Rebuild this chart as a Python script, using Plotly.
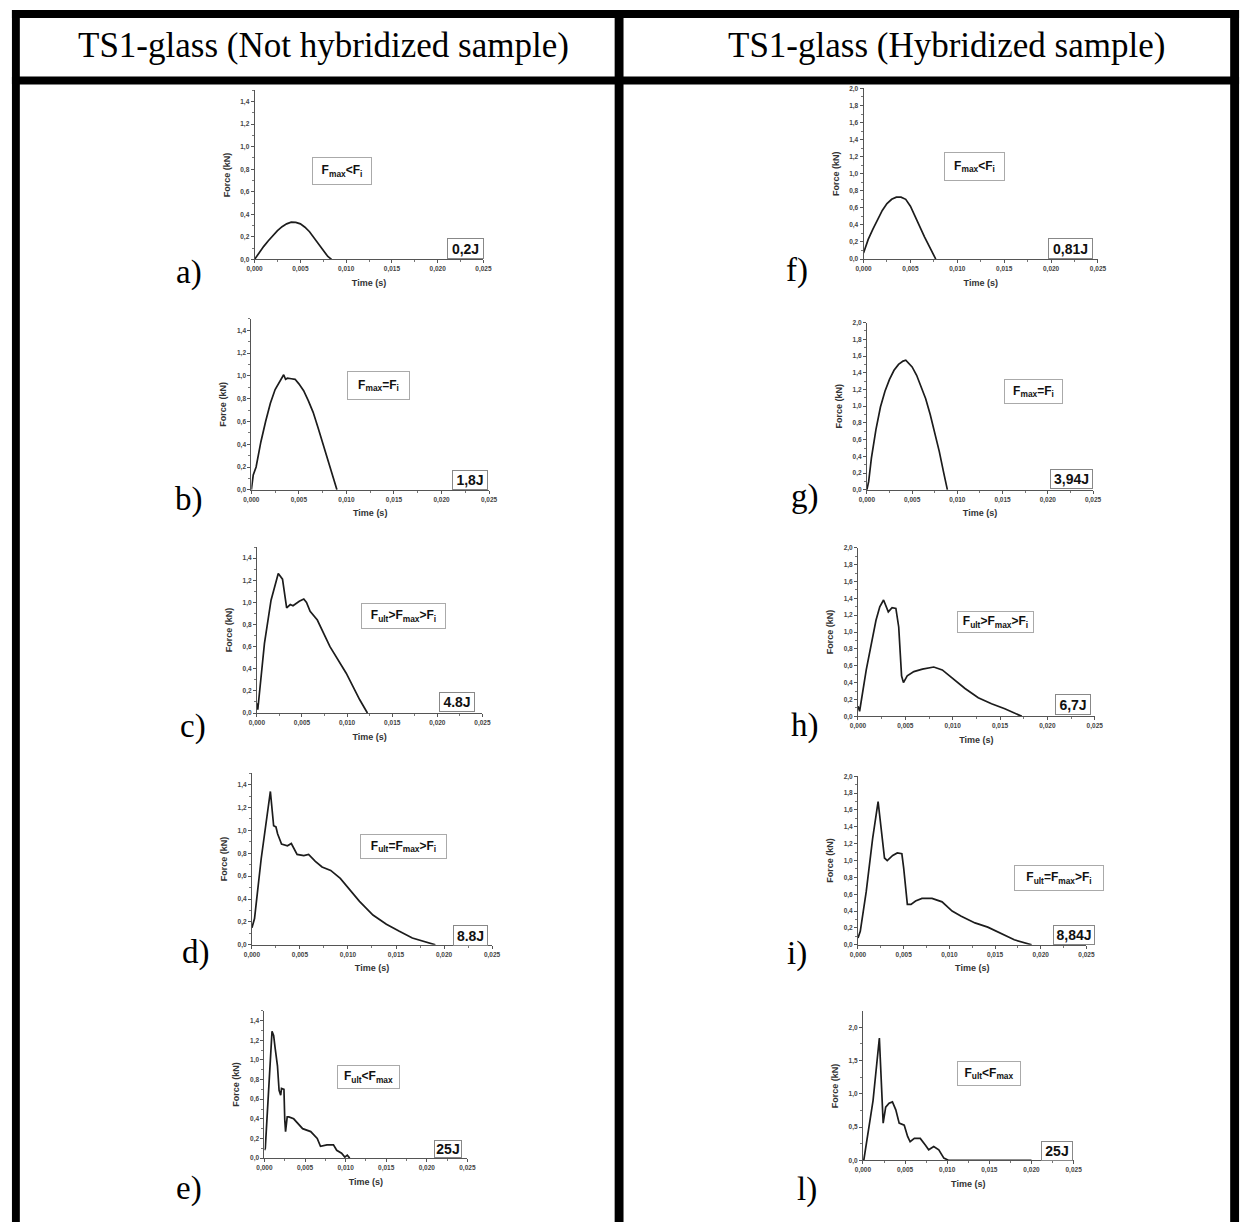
import plotly.graph_objects as go

# ---------------- data ----------------
t_a = [0, 0.0005, 0.001, 0.0015, 0.002, 0.0025, 0.003, 0.0035, 0.004, 0.0045, 0.005, 0.0055, 0.006, 0.0065, 0.007, 0.0075, 0.008, 0.0084]
f_a = [0, 0.06, 0.115, 0.165, 0.21, 0.255, 0.29, 0.315, 0.33, 0.328, 0.315, 0.285, 0.245, 0.19, 0.13, 0.075, 0.025, 0.0]

t_b = [0, 0.0001, 0.0002, 0.0005, 0.001, 0.0015, 0.002, 0.0025, 0.003, 0.0034, 0.0036, 0.0038, 0.0042, 0.0046, 0.005, 0.0055, 0.006, 0.0065, 0.007, 0.0075, 0.008, 0.0085, 0.009]
f_b = [0, 0.06, 0.13, 0.2, 0.42, 0.6, 0.76, 0.88, 0.96, 1.01, 0.97, 0.98, 0.975, 0.97, 0.93, 0.87, 0.78, 0.68, 0.55, 0.41, 0.26, 0.12, 0.0]

t_c = [0, 0.0001, 0.00084, 0.00157, 0.00237, 0.00284, 0.0033, 0.0037, 0.004, 0.0047, 0.0052, 0.0055, 0.0059, 0.0067, 0.0081, 0.0099, 0.0114, 0.01225]
f_c = [0.09, 0.03, 0.63, 1.02, 1.26, 1.21, 0.95, 0.98, 0.97, 1.01, 1.03, 1.0, 0.92, 0.84, 0.6, 0.36, 0.12, 0.0]

t_d = [0, 0.00027, 0.00096, 0.00147, 0.00192, 0.00226, 0.0025, 0.00267, 0.00308, 0.0037, 0.0041, 0.0047, 0.0054, 0.0059, 0.0066, 0.0073, 0.0082, 0.0092, 0.0102, 0.0112, 0.0126, 0.014, 0.0153, 0.0167, 0.0191]
f_d = [0.15, 0.23, 0.75, 1.07, 1.34, 1.04, 1.03, 0.97, 0.88, 0.865, 0.885, 0.79, 0.78, 0.79, 0.73, 0.68, 0.65, 0.58, 0.48, 0.38, 0.26, 0.18, 0.12, 0.06, 0.0]

t_e = [0, 0.0001, 0.00093, 0.00113, 0.0013, 0.0015, 0.0016, 0.0018, 0.002, 0.0021, 0.0024, 0.0025, 0.0026, 0.0028, 0.003, 0.0036, 0.0041, 0.0047, 0.0057, 0.0065, 0.0069, 0.0077, 0.0085, 0.0089, 0.0095, 0.0099, 0.0102, 0.0105]
f_e = [0.08, 0.1, 1.29, 1.25, 1.13, 0.98, 0.94, 0.69, 0.64, 0.71, 0.70, 0.39, 0.27, 0.42, 0.42, 0.40, 0.35, 0.30, 0.27, 0.20, 0.12, 0.135, 0.135, 0.08, 0.05, 0.01, 0.03, 0.0]

t_f = [0, 0.0005, 0.001, 0.0015, 0.002, 0.0025, 0.003, 0.0035, 0.004, 0.0045, 0.005, 0.0055, 0.006, 0.0065, 0.007, 0.0077]
f_f = [0.07, 0.23, 0.35, 0.47, 0.57, 0.65, 0.70, 0.725, 0.725, 0.70, 0.62, 0.50, 0.37, 0.26, 0.15, 0.0]

t_g = [0, 0.0002, 0.0005, 0.001, 0.0015, 0.002, 0.0025, 0.003, 0.0035, 0.004, 0.0043, 0.0047, 0.005, 0.0055, 0.006, 0.0065, 0.007, 0.0075, 0.008, 0.0085, 0.0089]
f_g = [0, 0.1, 0.38, 0.72, 0.99, 1.18, 1.32, 1.43, 1.5, 1.54, 1.55, 1.51, 1.47, 1.37, 1.24, 1.09, 0.9, 0.69, 0.46, 0.2, 0.0]

t_h = [0, 0.00017, 0.00087, 0.0019, 0.0023, 0.0027, 0.0032, 0.0036, 0.004, 0.0043, 0.0046, 0.0048, 0.0052, 0.0059, 0.0068, 0.008, 0.0089, 0.0099, 0.0113, 0.0127, 0.0141, 0.0155, 0.0165, 0.0173]
f_h = [0.12, 0.06, 0.55, 1.14, 1.30, 1.38, 1.24, 1.29, 1.28, 1.06, 0.48, 0.40, 0.48, 0.53, 0.56, 0.585, 0.55, 0.46, 0.33, 0.22, 0.15, 0.09, 0.035, 0.0]

t_i = [0, 0.00025, 0.0009, 0.0016, 0.0022, 0.0025, 0.0029, 0.0032, 0.0038, 0.0043, 0.0048, 0.005, 0.0054, 0.0058, 0.0063, 0.007, 0.0081, 0.0092, 0.0103, 0.0113, 0.0128, 0.0142, 0.0156, 0.0171, 0.019]
f_i = [0.08, 0.16, 0.63, 1.26, 1.70, 1.42, 1.03, 1.0, 1.06, 1.09, 1.08, 0.91, 0.48, 0.48, 0.52, 0.55, 0.55, 0.51, 0.40, 0.34, 0.26, 0.21, 0.14, 0.06, 0.0]

t_l = [0.0001, 0.0012, 0.00195, 0.0024, 0.0027, 0.0031, 0.0035, 0.0039, 0.0043, 0.0049, 0.0053, 0.0056, 0.0061, 0.0068, 0.0074, 0.0078, 0.0084, 0.009, 0.0096, 0.01, 0.0102, 0.0145, 0.02]
f_l = [0.0, 0.9, 1.84, 0.56, 0.8, 0.86, 0.88, 0.76, 0.56, 0.53, 0.36, 0.28, 0.33, 0.33, 0.23, 0.16, 0.21, 0.16, 0.035, 0.01, 0.0, 0.0, 0.0]

panel_letters = ["a)", "b)", "c)", "d)", "e)", "f)", "g)", "h)", "i)", "l)"]
conditions = ["F<sub>max</sub>&lt;F<sub>i</sub>", "F<sub>max</sub>=F<sub>i</sub>",
              "F<sub>ult</sub>&gt;F<sub>max</sub>&gt;F<sub>i</sub>", "F<sub>ult</sub>=F<sub>max</sub>&gt;F<sub>i</sub>",
              "F<sub>ult</sub>&lt;F<sub>max</sub>",
              "F<sub>max</sub>&lt;F<sub>i</sub>", "F<sub>max</sub>=F<sub>i</sub>",
              "F<sub>ult</sub>&gt;F<sub>max</sub>&gt;F<sub>i</sub>", "F<sub>ult</sub>=F<sub>max</sub>&gt;F<sub>i</sub>",
              "F<sub>ult</sub>&lt;F<sub>max</sub>"]
energies = ["0,2J", "1,8J", "4.8J", "8.8J", "25J", "0,81J", "3,94J", "6,7J", "8,84J", "25J"]
headers = ["TS1-glass (Not hybridized sample)", "TS1-glass (Hybridized sample)"]
x_ticks = [0.0, 0.005, 0.010, 0.015, 0.020, 0.025]

series_t = [t_a, t_b, t_c, t_d, t_e, t_f, t_g, t_h, t_i, t_l]
series_f = [f_a, f_b, f_c, f_d, f_e, f_f, f_g, f_h, f_i, f_l]
y_max = [1.5, 1.5, 1.5, 1.5, 1.5, 2.0, 2.0, 2.0, 2.0, 2.24]
y_step = [0.2] * 9 + [0.5]

# ---------------- layout geometry (pixels) ----------------
W, H = 1252, 1226
# plot area boxes: x0, x1, ytop, ybottom
boxes = [
    (250, 482, 87, 257),
    (246.7, 487.7, 317, 489),
    (252.3, 481, 546.6, 713.7),
    (247.3, 490.7, 774.2, 947),
    (260, 465.7, 1013.4, 1161.7),
    (867.3, 1105, 85, 256.7),
    (870.7, 1100, 320.7, 489),
    (861.7, 1101.7, 547.3, 717),
    (861.7, 1093.3, 777.3, 947),
    (866.7, 1080.3, 1014, 1164),
]
cond_pos = [(0.38, 0.52, 60, 28), (0.534, 0.613, 63, 29), (0.648, 0.585, 85, 26), (0.63, 0.57, 87, 25),
            (0.513, 0.55, 63, 24), (0.472, 0.543, 61, 29), (0.736, 0.59, 59, 25), (0.58, 0.557, 77, 22),
            (0.878, 0.395, 90, 26), (0.60, 0.583, 64, 25)]
en_pos = [(0.92, 0.065, 37, 21), (0.92, 0.06, 36, 20), (0.886, 0.064, 36, 20), (0.909, 0.055, 35, 21),
          (0.904, 0.065, 28, 18), (0.884, 0.06, 45, 21), (0.906, 0.065, 43, 20), (0.91, 0.068, 36, 21),
          (0.947, 0.059, 42, 20), (0.92, 0.06, 32, 20)]
label_pos = [(183, 270), (183, 499), (188, 727), (191, 955), (183, 1192),
             (800, 268), (808, 496), (808, 726), (800, 956), (810, 1193)]


def px(x):
    return x / W


def py(y):
    return 1 - y / H


fig = go.Figure()
annotations = []
shapes = []
layout_axes = {}

tick_font = dict(family="Liberation Sans, Arial", size=6.5, color="#444", weight="bold")
title_font = dict(family="Liberation Sans, Arial", size=9, color="#333", weight="bold")

for k in range(10):
    n = "" if k == 0 else str(k + 1)
    x0, x1, yt, yb = boxes[k]
    fig.add_trace(go.Scatter(x=series_t[k], y=series_f[k], mode="lines",
                             line=dict(color="#1c1c1c", width=1.7),
                             xaxis="x" + n, yaxis="y" + n, showlegend=False,
                             hoverinfo="x+y"))
    layout_axes["xaxis" + n] = dict(
        domain=[px(x0), px(x1)], anchor="y" + n, range=[0, 0.025],
        tickvals=x_ticks, tickformat=".3f", showgrid=False, zeroline=False,
        showline=True, linecolor="#555", linewidth=1, ticks="outside", ticklen=3,
        tickcolor="#555", tickfont=tick_font,
        minor=dict(ticks="outside", ticklen=2, dtick=0.0025, tickcolor="#777"),
        title=dict(text="Time (s)", font=title_font, standoff=7),
    )
    layout_axes["yaxis" + n] = dict(
        domain=[py(yb), py(yt)], anchor="x" + n, range=[0, y_max[k]],
        tick0=0, dtick=y_step[k], tickformat=".1f", showgrid=False, zeroline=False,
        showline=True, linecolor="#555", linewidth=1, ticks="outside", ticklen=3,
        tickcolor="#555", tickfont=tick_font,
        minor=dict(ticks="outside", ticklen=2, dtick=y_step[k] / 2, tickcolor="#777"),
        title=dict(text="Force (kN)", font=title_font, standoff=8),
    )
    cx, cy, cw, ch = cond_pos[k]
    annotations.append(dict(
        text="<b>" + conditions[k] + "</b>", xref="x" + n + " domain", yref="y" + n + " domain",
        x=cx, y=cy, xanchor="center", yanchor="middle", showarrow=False,
        font=dict(family="Liberation Sans, Arial", size=12, color="#111"),
        bordercolor="#aaa", borderwidth=1, bgcolor="white", borderpad=0,
        width=cw - 2, height=ch - 2, align="center", valign="middle"))
    ex, ey, ew, eh = en_pos[k]
    annotations.append(dict(
        text="<b>" + energies[k] + "</b>", xref="x" + n + " domain", yref="y" + n + " domain",
        x=ex, y=ey, xanchor="center", yanchor="middle", showarrow=False,
        font=dict(family="Liberation Sans, Arial", size=14, color="#111"),
        bordercolor="#888", borderwidth=1, bgcolor="white", borderpad=0,
        width=ew - 2, height=eh - 2, align="center", valign="middle"))
    lx, ly = label_pos[k]
    annotations.append(dict(
        text=panel_letters[k], xref="paper", yref="paper", x=px(lx), y=py(ly),
        xanchor="center", yanchor="middle", showarrow=False,
        font=dict(family="Liberation Serif, Times New Roman", size=33, color="black")))

# headers
annotations.append(dict(text=headers[0], xref="paper", yref="paper", x=px(320), y=py(42),
                        xanchor="center", yanchor="middle", showarrow=False,
                        font=dict(family="Liberation Serif, Times New Roman", size=35, color="black")))
annotations.append(dict(text=headers[1], xref="paper", yref="paper", x=px(951), y=py(42),
                        xanchor="center", yanchor="middle", showarrow=False,
                        font=dict(family="Liberation Serif, Times New Roman", size=35, color="black")))

# table rules (thick black bars)
bars = [(4, 1248, 6, 14), (4, 1248, 73, 81), (4, 12, 6, 1226), (615, 624, 6, 1226), (1239, 1248, 6, 1226)]
for (bx0, bx1, by0, by1) in bars:
    shapes.append(dict(type="rect", xref="paper", yref="paper", x0=px(bx0), x1=px(bx1),
                       y0=py(by1), y1=py(by0), fillcolor="black", line=dict(width=0), layer="above"))

fig.update_layout(
    width=W, height=H, autosize=False, margin=dict(l=0, r=0, t=0, b=0, pad=0),
    paper_bgcolor="white", plot_bgcolor="white", separators=",.",
    annotations=annotations, shapes=shapes, **layout_axes)

fig.write_html("out.html", config={"displayModeBar": False})

# remove the browser's default page margin so the figure sits at (0, 0)
with open("out.html", "r", encoding="utf-8") as fh:
    html = fh.read()
html = html.replace("<head>", "<head><style>html,body{margin:0;padding:0;overflow:hidden;}</style>", 1)
with open("out.html", "w", encoding="utf-8") as fh:
    fh.write(html)
